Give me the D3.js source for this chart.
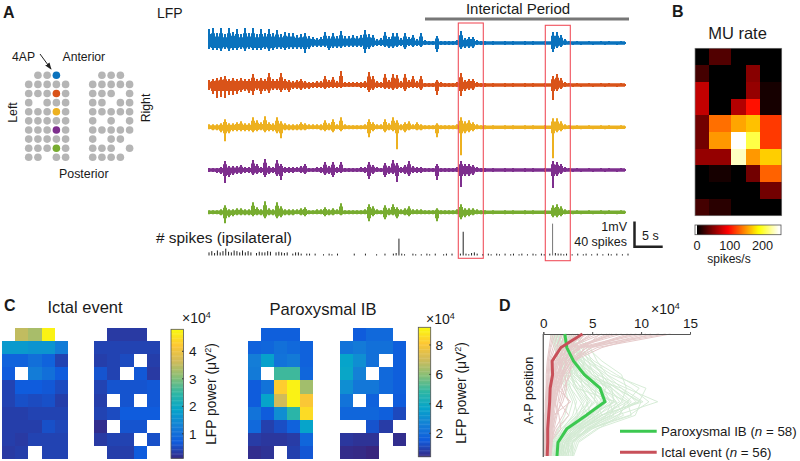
<!DOCTYPE html>
<html><head><meta charset="utf-8">
<script src="https://cdn.jsdelivr.net/npm/d3@7"></script>
<style>html,body{margin:0;padding:0;background:#fff}svg{display:block}text{font-family:"Liberation Sans",Arial,sans-serif;fill:#1a1a1a}</style>
</head><body><svg id="c" width="800" height="461"></svg>
<script>
// ---------- DATA ----------
const flat=[1,2,1,1,2,1,2,1,1,2];
const tailUp=[2,1,2,1,1,2,1,1,2,1,2,1,1,2,1];
const tailDn=[1,2,1,2,1,1,2,1,1,2,1,1,2,1,1];
const mid8Up=[1,2,1,1,2,1];
const blueUp=[14,15,10,15,9,15,11,14,9,15, 10,15,9,14,10,14,10,13,9,11, 10,10,8,9,10,7,6,5,6,11, 7,10,7,12,7,7,8,7,8,13, 9,8,4,5,11,6,10,10,5,10, 6,8,4,10,3,2,2,7,2,2, 2,2,3,12,5,6,6,3,2,2];
const blueUp2=[11,11,8,4];
const blueDn=[6,7,7,8,6,8,7,7,6,8, 6,7,7,7,6,8,7,6,6,7, 6,6,6,6,10,6,4,4,4,4, 7,5,5,5,4,4,4,4,4,10, 6,4,3,3,4,5,5,4,3,6, 3,4,3,4,2,2,2,9,2,2, 2,2,2,6,5,5,5,2,2,2];
const blueDn2=[9,5,4,2];
const orangeUp=[5,6,7,8,9,6,7,6,7,6, 6,11,6,7,6,12,6,6,12,6, 5,4,5,6,4,3,3,4,4,9, 5,8,4,14,3,3,3,3,3,4, 13,9,4,3,11,5,11,10,4,11, 5,9,4,9,2,2,2,5,3,2, 2,2,3,12,5,6,6,3,2,2];
const orangeUp2=[9,11,7,3];
const orangeDn=[5,9,13,12,13,10,10,9,7,6, 8,10,5,9,6,8,5,5,7,5, 7,4,4,5,4,4,3,3,3,4, 3,3,3,3,2,2,2,2,3,3, 7,5,3,3,4,4,5,4,3,6, 3,3,3,5,2,2,2,10,2,2, 2,2,2,11,6,5,5,2,2,2];
const orangeDn2=[15,6,4,2];
const yellowUp=[3,3,3,4,8,4,4,5,6,4, 4,10,7,5,11,5,4,10,6,4, 3,3,3,5,4,3,3,3,3,7, 4,8,3,10,3,2,2,2,2,3, 8,5,3,3,8,4,10,7,3,5, 6,3,5,3,2,2,2,4,2,2, 2,2,3,10,6,7,5,3,2,2];
const yellowUp2=[9,9,6,3];
const yellowDn=[2,3,3,5,14,6,4,4,4,4, 4,5,4,3,5,4,4,6,11,3, 3,3,3,3,3,2,2,2,3,4, 3,5,2,4,2,2,2,2,2,2, 10,4,2,2,5,3,4,22,3,5, 3,2,3,3,2,2,2,10,2,2, 2,2,2,28,6,5,4,2,2,2];
const yellowDn2=[31,5,4,2];
const purpleUp=[2,2,2,3,9,4,4,4,5,3, 3,10,6,3,11,4,3,10,6,3, 3,3,3,4,6,2,2,3,3,8, 4,8,3,8,2,2,2,2,3,3, 8,5,3,2,7,4,10,7,3,5, 9,4,3,3,2,2,2,6,2,2, 2,2,3,9,6,6,5,3,2,2];
const purpleUp2=[9,8,6,3];
const purpleDn=[2,2,3,4,13,7,5,4,4,3, 3,5,4,3,7,4,3,6,10,3, 3,3,2,3,4,2,2,2,3,5, 4,7,3,3,2,2,2,2,2,3, 9,4,2,2,7,4,4,12,3,4, 6,3,3,3,2,2,2,10,2,2, 2,2,2,17,6,6,5,2,2,2];
const purpleDn2=[18,6,4,2];
const greenUp=[2,2,2,3,7,3,3,4,4,3, 3,10,5,3,11,4,3,10,6,3, 3,3,3,4,5,2,2,3,3,5, 3,4,3,9,2,2,2,2,2,3, 8,6,3,2,7,4,8,5,3,4, 6,3,3,3,2,2,2,4,2,2, 2,2,3,8,4,4,4,3,2,2];
const greenUp2=[7,8,6,3];
const greenDn=[2,2,2,3,11,5,4,3,3,3, 3,4,3,3,6,3,3,6,5,3, 3,3,2,3,4,2,2,2,2,4, 3,3,2,3,2,2,2,2,2,2, 9,4,2,2,7,3,3,6,2,3, 4,2,2,2,2,2,2,9,2,2, 2,2,2,7,5,4,3,2,2,2];
const greenDn2=[5,5,4,2];
const spikeCounts=[5,7,4,8,5,7,11,6,5,8, 7,5,8,5,7,5,0,4,6,5, 5,7,6,0,5,6,5,4,5,0, 3,5,5,3,0,3,3,0,3,0, 0,2,0,3,2,0,3,0,0,0, 0,0,3,0,0,0,3,0,0,0, 2,0,0,3,0,0,3,4,27,3, 2,0,0,3,2,0,2,0,3,2, 0,3,0,0,2,3,0,3,0,0, 3,38,3,2,4,5,3,0,2,0, 3,2,0,3,2,0,3,0,2,3, 0,2,3,0,2,0,3,2,0,3, 2,0,3,51,4,3,3,2,3,0, 2,0,3,0,2,3,0,2,0,3, 0,2,0,3,2,0,3,0,2,0,3];

const gridRows=[
 [0,1,1,1,0],[1,1,1,1,1],[1,1,1,1,1],[1,0,1,1,1],[1,1,1,1,1],
 [1,1,1,1,1],[1,1,1,1,1],[1,1,1,1,1],[1,1,1,1,1],[1,1,0,1,1]];
const gridRowsR=[
 [0,1,1,1,0],[1,1,1,1,1],[1,1,1,0,1],[1,1,0,1,1],[1,1,1,1,1],
 [1,0,1,0,1],[1,1,1,1,1],[1,0,1,1,0],[1,1,1,0,1],[1,1,1,1,0]];
const gridMarked=[[0,'#0a72bd'],[2,'#d95319'],[4,'#edb120'],[6,'#7e2f8e'],[8,'#77ac30']];

const muEdges=[0,2,5,7,9,12];
const muRate=[
 [0,30,0,0,0],[25,0,0,50,0],[72,0,0,55,8],[72,0,66,100,8],[42,135,155,165,115],
 [42,150,250,205,115],[55,55,235,150,170],[0,8,0,42,130],[0,0,0,0,42],[25,15,0,0,0]];

const N=null;
const ictalL=[
 [N,3.5,3.3,4.7,N],[1.7,1.7,1.6,1.6,1.2],[.8,.8,1,.8,.4],[.7,N,1.2,1,.7],[.4,.7,.7,.65,.5],
 [.4,.55,.5,.55,.35],[.35,.35,.4,.4,.4],[.35,.35,.35,.55,.45],[.35,.3,.4,.4,.4],[.3,.35,N,.4,.4]];
const ictalR=[
 [N,.3,.3,.3,N],[.4,.4,.4,.4,.4],[.35,.4,.5,N,.35],[.6,.4,N,.65,.3],[.4,.6,.6,.6,.65],
 [.35,N,.6,N,.65],[.4,.5,.7,.7,.7],[.15,N,.6,.6,N],[.3,.4,.4,N,.55],[N,.35,.35,.7,N]];
const paroxL=[
 [N,1.6,1.6,1.6,N],[1.7,1.8,2.1,1.9,1.7],[2.5,3.6,2.2,2.4,1.7],[2.4,N,5,5,1.8],[1.5,2.2,8.2,9,6.3],
 [1.5,3.7,7,9,8],[2.2,1.5,3,4.7,8.5],[1.9,.9,1.2,1.7,3.7],[.8,.7,.7,.8,1.8],[.5,.6,N,.9,1.4]];
const paroxR=[
 [N,1.5,1.9,1.9,N],[2.2,2.4,2.1,2.1,1.6],[3.7,3,2.1,N,1.6],[3.8,2.6,N,1.9,1.6],[3,2.3,2.3,1.9,1.6],
 [2.2,N,1.7,N,1.5],[1.8,1.8,1.8,1.6,1.1],[N,N,1.3,.8,N],[.7,.6,.6,N,.5],[.45,.4,.3,N,N]];
const parulaStops=["#352a87","#0f5cdd","#1481d6","#06a4ca","#2eb7a4","#87bf77","#d1bb59","#fec832","#f9fb0e"];

const meanParox=[2.2,2.4,3.1,4.2,5.8,6.3,4.4,2.4,1.5,1.4];
const meanIctal=[4.0,1.8,.9,.95,.7,.65,.55,.45,.45,.4];
const trialsParox=[
[2.5,3.0,3.8,5.5,8.5,11.7,7.5,4.5,3.0,2.8],[2.8,3.5,4.8,7.0,10.5,9.8,7.0,4.2,2.5,2.6],[2.2,3.0,4.5,6.5,9.0,10.8,8.8,4.5,2.8,2.3],
[3.5,4.8,5.5,6.5,8.0,9.5,6.5,4.0,3.0,3.0],[2.0,2.5,3.5,5.0,7.5,9.8,6.0,3.5,2.2,2.0],[3.0,4.5,6.0,8.0,8.5,8.0,6.5,4.8,3.0,2.5],
[1.8,2.2,3.0,4.5,7.0,8.8,7.0,3.6,2.0,1.8],[2.5,3.5,4.2,5.0,6.5,8.2,6.0,4.0,2.5,2.2],[1.5,2.0,2.8,4.0,6.8,7.8,5.5,3.0,1.8,1.5],
[2.2,3.2,5.0,6.0,7.0,7.2,5.0,3.2,2.0,1.6],[2.0,2.6,3.6,4.6,5.8,7.0,6.4,3.8,2.4,2.1],[1.2,2.4,4.0,5.5,6.2,6.8,5.2,2.8,1.6,1.4],
[1.6,2.0,2.6,3.6,5.2,6.5,4.8,2.6,1.5,1.3],[2.6,3.0,3.2,3.5,4.6,6.2,5.5,3.4,2.2,1.8],[1.4,1.8,2.2,3.2,5.0,6.0,4.2,2.4,1.4,1.2],
[2.0,2.8,3.4,4.2,4.8,5.6,5.0,3.0,1.8,1.4],[1.0,1.6,2.4,3.0,4.4,5.4,3.8,2.2,1.2,1.0],[1.8,2.2,2.6,3.0,3.8,5.0,4.4,2.6,1.5,1.2],
[1.2,1.6,2.0,2.6,4.0,4.6,3.4,2.0,1.1,0.9],[2.4,2.6,2.8,2.8,3.2,4.2,3.6,2.4,1.6,1.5],[0.9,1.4,1.8,2.2,3.2,4.0,3.2,1.8,1.0,0.8],
[1.5,1.8,2.0,2.4,2.8,3.4,3.0,2.0,1.3,1.1],[0.8,1.2,1.5,1.9,2.4,3.0,2.6,1.6,1.0,0.8],[1.1,1.3,1.6,1.7,2.2,2.6,2.2,1.5,0.9,0.7],
[3.0,3.6,4.2,3.8,4.0,4.8,3.6,2.8,2.6,2.4],[2.0,2.4,3.4,2.8,3.4,7.4,8.2,5.0,2.6,2.0],[1.6,2.6,3.0,3.2,5.6,8.6,9.0,4.8,2.2,1.6],
[1.0,1.8,2.2,2.0,2.8,3.8,4.6,2.8,1.4,1.0],[2.2,3.8,5.2,7.5,9.8,8.6,6.0,3.8,2.2,1.8],[1.4,2.2,3.0,4.0,8.0,10.2,5.8,3.4,2.0,1.7],
[1.8,3.0,4.4,6.2,7.6,9.0,7.6,5.0,3.2,2.9],[1.3,2.0,2.8,3.8,5.4,5.2,4.0,3.0,1.9,1.5],
[2.3,3.4,4.0,5.8,7.4,10.0,9.4,5.4,3.4,3.0],[3.2,4.0,4.6,5.2,7.0,8.4,7.8,5.6,3.6,3.1],[1.9,2.8,3.2,4.8,6.0,7.5,6.8,4.4,2.9,2.5],
[2.7,3.3,3.6,4.4,5.4,6.8,7.2,4.6,3.0,2.7],[1.1,1.9,2.6,3.4,4.8,7.2,5.6,3.2,2.2,2.0],[1.7,2.3,3.8,5.0,6.6,7.4,4.6,2.8,1.7,1.3],
[3.4,4.4,4.9,6.0,6.4,5.8,4.4,3.6,2.4,2.2],[0.7,1.1,1.7,2.4,3.6,4.6,3.9,2.4,1.4,1.1],[2.1,2.5,3.0,3.4,4.2,5.4,6.0,3.9,2.3,1.9],
[1.5,2.1,2.4,2.9,3.4,4.4,4.9,3.2,2.0,1.6],[2.9,3.2,3.9,4.5,6.0,6.5,5.3,3.7,2.7,2.3],[1.3,1.5,1.9,2.1,2.6,3.2,3.5,2.2,1.5,1.3]];
const trialsIctal=[
[13.0,5.5,2.8,2.0,1.5,1.3,1.1,0.9,0.9,0.8],[12.5,4.5,2.4,1.9,1.2,1.0,0.9,0.7,0.7,0.6],[11.0,6.0,3.0,2.6,2.2,1.8,1.4,1.1,0.9,0.7],
[10.0,4.0,2.0,1.4,1.1,0.9,0.8,0.7,0.6,0.5],[9.0,4.8,3.2,2.2,2.4,2.0,1.2,1.0,0.8,0.6],[8.0,3.2,1.6,1.3,0.9,0.8,0.7,0.6,0.5,0.5],
[7.0,3.8,2.4,1.8,1.4,1.0,1.0,0.8,0.6,0.5],[6.0,2.6,1.4,1.2,0.8,0.6,0.6,0.5,0.4,0.4],[5.0,3.0,2.0,1.6,1.0,1.2,0.9,0.6,0.5,0.4],
[4.5,2.2,1.2,1.0,0.7,0.6,0.5,0.4,0.4,0.3],[4.0,2.6,1.8,1.4,1.3,0.9,0.7,0.5,0.4,0.4],[3.5,1.8,1.0,0.9,0.6,0.5,0.4,0.4,0.3,0.3],
[3.0,2.2,1.5,1.0,0.8,0.7,0.6,0.4,0.3,0.3],[2.5,1.5,0.8,0.7,0.5,0.4,0.3,0.3,0.3,0.2],[2.0,1.2,0.7,0.6,0.4,0.4,0.3,0.3,0.2,0.2],
[1.5,1.0,0.6,0.5,0.4,0.3,0.3,0.2,0.2,0.2],[1.2,0.8,0.5,0.4,0.3,0.3,0.2,0.2,0.2,0.1],[0.8,0.6,0.4,0.3,0.3,0.2,0.2,0.2,0.1,0.1],
[6.5,3.4,2.8,2.0,1.8,2.6,2.0,1.2,0.7,0.6],[3.8,2.8,2.2,2.8,2.0,1.6,2.6,1.4,0.8,0.7],[5.5,2.4,1.6,0.9,1.4,2.8,1.0,0.8,0.6,0.5],
[2.8,2.0,1.6,2.0,1.6,1.2,1.6,1.8,0.7,0.5],[9.5,3.6,1.8,1.5,1.0,0.9,0.8,0.6,0.5,0.5],[7.5,2.8,1.3,1.0,0.9,0.7,0.6,0.5,0.4,0.4],
[11.8,3.8,1.7,1.1,0.8,0.7,0.7,0.6,0.5,0.4],[5.8,4.2,3.4,2.4,1.7,1.5,1.3,0.9,0.7,0.6],
[10.5,5.0,2.6,1.7,1.3,1.1,1.0,0.8,0.7,0.6],[8.6,4.4,2.9,2.1,1.6,1.2,0.9,0.7,0.6,0.5],[6.8,3.6,2.2,1.5,1.0,0.8,0.7,0.6,0.5,0.4],
[4.2,3.2,2.6,1.9,1.5,1.1,0.8,0.6,0.4,0.3],[3.2,2.4,1.9,1.7,1.2,1.0,0.8,0.5,0.3,0.2],[2.2,1.7,1.3,1.2,1.0,0.7,0.5,0.4,0.3,0.2],
[1.8,1.4,1.1,0.8,0.6,0.5,0.4,0.3,0.2,0.2],[1.0,0.7,0.5,0.5,0.4,0.3,0.2,0.2,0.1,0.1],[4.8,2.9,2.3,1.3,0.9,0.7,0.6,0.5,0.4,0.3]];

// ---------- DRAW ----------
const svg=d3.select('#c');
const T=(x,y,s,o={})=>{const t=svg.append('text').attr('x',x).attr('y',y).attr('font-size',o.size||12).attr('text-anchor',o.anchor||'start').text(s);
 if(o.bold)t.attr('font-weight','bold'); if(o.rot!==undefined)t.attr('transform',`rotate(${o.rot} ${x} ${y})`); return t;};

T(3,18,'A',{size:16,bold:1}); T(672,17,'B',{size:16,bold:1}); T(4,311,'C',{size:16,bold:1}); T(499,311,'D',{size:16,bold:1});
T(157,18,'LFP',{size:14}); T(518,14,'Interictal Period',{size:15,anchor:'middle'}); T(737.5,39,'MU rate',{size:16.5,anchor:'middle'});

// A: electrode map
const gx=d3.scaleLinear().domain([0,4]).range([28.7,65.6]);
const gxR=d3.scaleLinear().domain([0,4]).range([92.7,129.6]);
const gy=d3.scaleLinear().domain([0,9]).range([75.3,157.3]);
const dots=svg.append('g');
gridRows.forEach((row,r)=>row.forEach((on,c)=>{if(!on)return;const m=c===3&&gridMarked.find(d=>d[0]===r);
 dots.append('circle').attr('cx',gx(c)).attr('cy',gy(r)).attr('r',3.8).attr('fill',m?m[1]:'#b5b5b5');}));
gridRowsR.forEach((row,r)=>row.forEach((on,c)=>{if(on)dots.append('circle').attr('cx',gxR(c)).attr('cy',gy(r)).attr('r',3.8).attr('fill','#b5b5b5');}));
T(12,61,'4AP',{size:12.2}); T(62.5,61,'Anterior',{size:12.2}); T(59,178,'Posterior',{size:12.4});
T(16.5,112.5,'Left',{size:12.3,rot:-90,anchor:'middle'}); T(150,108,'Right',{size:12.3,rot:-90,anchor:'middle'});
svg.append('defs').append('marker').attr('id','ah').attr('viewBox','0 0 8 8').attr('refX',7).attr('refY',4).attr('markerWidth',7).attr('markerHeight',7).attr('orient','auto').append('path').attr('d','M0,1L8,4L0,7Z').attr('fill','#222');
svg.append('line').attr('x1',40).attr('y1',54).attr('x2',51).attr('y2',69).attr('stroke','#222').attr('marker-end','url(#ah)');

// LFP traces: solid core band plus a vertical excursion per time bin
const xLfp=d3.scaleLinear().domain([0,104.75]).range([209,628]);
const chans=[
 {u:blueUp,d:blueDn,a:blueUp2,b:blueDn2,col:'#0a72bd',base:43},
 {u:orangeUp,d:orangeDn,a:orangeUp2,b:orangeDn2,col:'#d95319',base:85},
 {u:yellowUp,d:yellowDn,a:yellowUp2,b:yellowDn2,col:'#edb120',base:127.3},
 {u:purpleUp,d:purpleDn,a:purpleUp2,b:purpleDn2,col:'#7e2f8e',base:170},
 {u:greenUp,d:greenDn,a:greenUp2,b:greenDn2,col:'#77ac30',base:212.3}];
chans.forEach(ch=>{
 const ups=[...ch.u,...flat,...mid8Up,...ch.a,...tailUp];
 const dns=[...ch.d,...flat,...mid8Up,...ch.b,...tailDn];
 const y=d3.scaleLinear().domain([-25,25]).range([ch.base+25,ch.base-25]);
 const band=d3.area().curve(d3.curveStep).x((d,i)=>xLfp(i)).y0((d,i)=>y(-Math.max(1.7,Math.min(6,dns[i]*.7)))).y1(d=>y(Math.max(1.7,d*.65)));
 const g=svg.append('g');
 g.append('path').attr('d',band(ups)).attr('fill',ch.col);
 g.selectAll('line').data(ups).join('line').attr('x1',(d,i)=>xLfp(i)).attr('x2',(d,i)=>xLfp(i)).attr('y1',d=>y(d)).attr('y2',(d,i)=>y(-dns[i])).attr('stroke',ch.col).attr('stroke-width',2);
});

// interictal bar + boxes
svg.append('line').attr('x1',425).attr('x2',629).attr('y1',19).attr('y2',19).attr('stroke','#777').attr('stroke-width',3);
[[458.3,483.3,23,258.3],[545.3,570.3,25.3,260.7]].forEach(b=>svg.append('rect').attr('x',b[0]).attr('y',b[2]).attr('width',b[1]-b[0]).attr('height',b[3]-b[2]).attr('fill','none').attr('stroke','#f0505c').attr('stroke-width',1.1));

// spikes
const xSp=d3.scaleLinear().domain([0,150]).range([209,628]);
const ySp=d3.scaleLinear().domain([0,40]).range([255.5,230.5]);
svg.append('g').selectAll('line').data(spikeCounts).join('line').attr('x1',(d,i)=>xSp(i)).attr('x2',(d,i)=>xSp(i)).attr('y1',ySp(0)).attr('y2',d=>ySp(d)).attr('stroke',d=>d>45?'#777':'#222').attr('stroke-width',1);
T(156,243,'# spikes (ipsilateral)',{size:15.4});
T(627,231,'1mV',{size:12.5,anchor:'end'}); T(627,246,'40 spikes',{size:12.5,anchor:'end'}); T(642,240,'5 s',{size:12.5});
svg.append('path').attr('d','M634.5,221.5V246.7H662.7').attr('fill','none').attr('stroke','#222').attr('stroke-width',2.5);

// B: MU rate
const hot=d3.scaleLinear().domain([0,94,188,250]).range(['#000','#f00','#ff0','#fff']).clamp(true);
const xB=d3.scaleLinear().domain([0,12]).range([695,781.7]);
const yB=d3.scaleBand().domain(d3.range(10)).range([48.3,215.7]);
muRate.forEach((row,r)=>row.forEach((v,c)=>svg.append('rect').attr('x',xB(muEdges[c])).attr('width',xB(muEdges[c+1])-xB(muEdges[c])).attr('y',yB(r)).attr('height',yB.bandwidth()).attr('fill',hot(v)).attr('shape-rendering','crispEdges')));
svg.append('rect').attr('x',695).attr('y',48.3).attr('width',86.7).attr('height',167.4).attr('fill','none').attr('stroke','#888').attr('stroke-width',.7);
const xBc=d3.scaleLinear().domain([0,250]).range([697,779]);
d3.range(0,250,1).forEach(v=>svg.append('rect').attr('x',xBc(v)).attr('width',1).attr('y',225).attr('height',9.7).attr('fill',hot(v)));
svg.append('rect').attr('x',695).attr('y',225).attr('width',86).attr('height',9.7).attr('fill','none').attr('stroke','#555').attr('stroke-width',.8);
[0,100,200].forEach(v=>T(xBc(v),250,v,{size:12.7,anchor:'middle'}));
T(729,263,'spikes/s',{size:12,anchor:'middle'});

// C: heatmaps
const parula=d3.piecewise(d3.interpolateRgb,parulaStops);
function heat(vals,x0,x1,lo,hi){
 const xs=d3.scaleLinear().domain([0,5]).range([x0,x1]), ys=d3.scaleLinear().domain([0,10]).range([328.3,458.7]);
 vals.forEach((row,r)=>row.forEach((v,c)=>{if(v===null)return;svg.append('rect').attr('x',xs(c)).attr('y',ys(r)).attr('width',xs(c+1)-xs(c)).attr('height',ys(r+1)-ys(r)).attr('fill',parula((v-lo)/(hi-lo))).attr('shape-rendering','crispEdges');}));
}
heat(ictalL,2,68,.11,4.8); heat(ictalR,94,160,.11,4.8); heat(paroxL,248,313.4,.41,9.2); heat(paroxR,340,405.7,.41,9.2);
T(85,313,'Ictal event',{size:16.5,anchor:'middle'}); T(323,315,'Paroxysmal IB',{size:16.6,anchor:'middle'});
function cbar(x,y0,y1,lo,hi,ticks,lx,rotX,expX,expY,midY){
 const y=d3.scaleLinear().domain([lo,hi]).range([y1,y0]);
 d3.range(0,1,.01).forEach(t=>svg.append('rect').attr('x',x).attr('width',12.4).attr('y',y(lo+(hi-lo)*(t+.01))).attr('height',(y1-y0)*.01+.4).attr('fill',parula(t)));
 svg.append('rect').attr('x',x).attr('y',y0).attr('width',12.4).attr('height',y1-y0).attr('fill','none').attr('stroke','#555').attr('stroke-width',.8);
 ticks.forEach(v=>{svg.append('line').attr('x1',x+11).attr('x2',x+12.4).attr('y1',y(v)).attr('y2',y(v)).attr('stroke','#333');T(lx,y(v)+5,v,{size:13.6});});
 const e=T(expX,expY,'×10',{size:14}); e.append('tspan').attr('font-size',9).attr('dy',-5).text('4');
 const t=T(rotX,midY,'LFP power (μV',{size:13.8,rot:-90,anchor:'middle'});
 t.append('tspan').attr('font-size',9).attr('dy',-5).text('2'); t.append('tspan').attr('dy',5).text(')');
}
cbar(171,329.3,458.3,.11,4.8,[1,2,3,4],189,216,182,323,394);
cbar(418.3,327.3,456.7,.41,9.2,[2,4,6,8],435.5,466,426,324.3,393);

// D: profiles
const xD=d3.scaleLinear().domain([0,15]).range([543.3,690]);
const yD=d3.scaleLinear().domain([0,9]).range([334,456]);
const lineD=d3.line().x(d=>xD(d)).y((d,i)=>yD(i));
const gd=svg.append('g');
gd.append('g').selectAll('path').data(trialsParox).join('path').attr('d',lineD).attr('fill','none').attr('stroke','#d2ead2').attr('stroke-width',.9);
gd.append('g').selectAll('path').data(trialsIctal).join('path').attr('d',lineD).attr('fill','none').attr('stroke','#e6caca').attr('stroke-width',1);
const ag=svg.append('g').attr('transform','translate(0,334)').call(d3.axisTop(xD).tickValues([0,5,10,15]).tickSize(2).tickPadding(4));
ag.selectAll('text').attr('font-size',13.5).attr('font-family','"Liberation Sans"');
ag.selectAll('line,path').attr('stroke','#555');
svg.append('line').attr('x1',543.3).attr('x2',543.3).attr('y1',334).attr('y2',457).attr('stroke','#666').attr('stroke-width',1.4);
svg.append('path').attr('d',lineD(meanParox)).attr('fill','none').attr('stroke','#3cc850').attr('stroke-width',3);
svg.append('path').attr('d',lineD(meanIctal)).attr('fill','none').attr('stroke','#c8505a').attr('stroke-width',3);
const e=T(651,313.5,'×10',{size:14}); e.append('tspan').attr('font-size',9).attr('dy',-5).text('4');
T(533,390.5,'A-P position',{size:12.6,rot:-90,anchor:'middle'});
[[431.3,'#3cc850','Paroxysmal IB (','58)'],[452.3,'#c8505a','Ictal event (','56)']].forEach(l=>{
 svg.append('line').attr('x1',620).attr('x2',656.7).attr('y1',l[0]).attr('y2',l[0]).attr('stroke',l[1]).attr('stroke-width',3);
 const t=T(661,l[0]+4.5,l[2],{size:13.3}); t.append('tspan').attr('font-style','italic').text('n'); t.append('tspan').text(' = '+l[3]);
});
</script></body></html>
